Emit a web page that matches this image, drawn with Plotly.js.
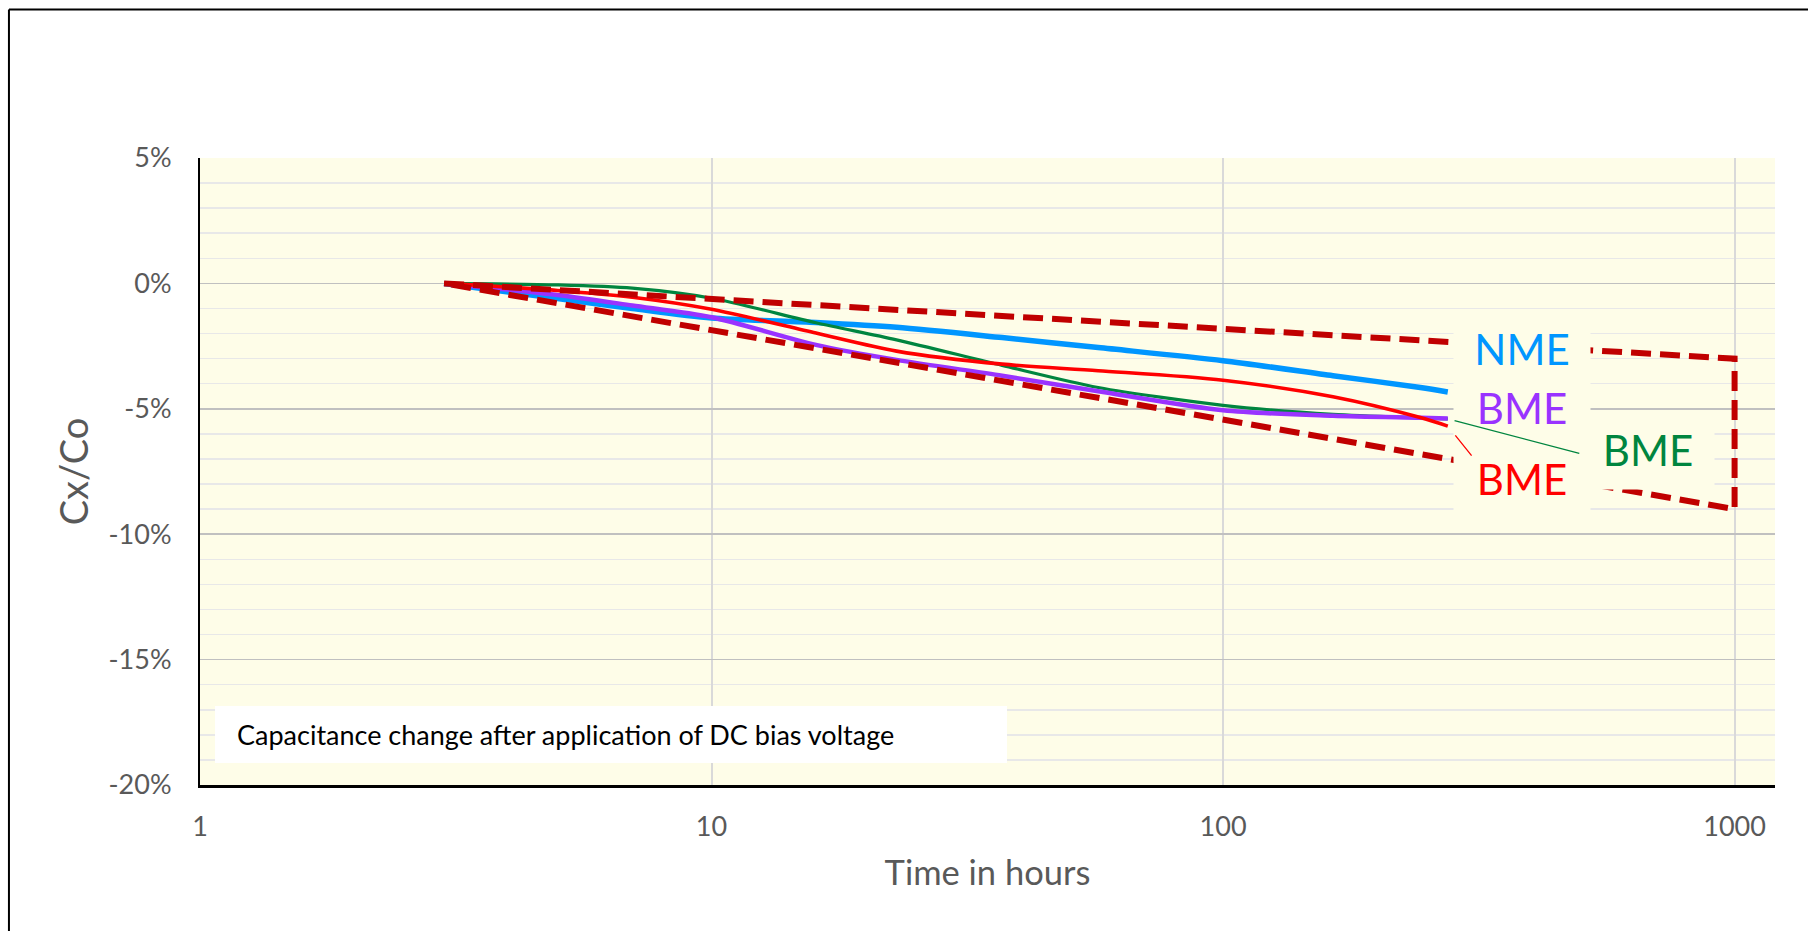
<!DOCTYPE html>
<html>
<head>
<meta charset="utf-8">
<script src="https://cdn.plot.ly/plotly-3.0.1.min.js"></script>
<style>
  html, body { margin: 0; padding: 0; background: #ffffff; }
  #chart { width: 1808px; height: 931px; }
</style>
</head>
<body>
<div id="chart"></div>
<script>
// ---- data ----
const hours      = [3, 5, 7, 10, 16, 23, 37, 57, 100, 164, 243, 275];
const nme        = [0, -0.60, -1.00, -1.38, -1.56, -1.75, -2.16, -2.56, -3.08, -3.68, -4.15, -4.33];
const bmePurple  = [0, -0.46, -0.88, -1.35, -2.45, -3.05, -3.68, -4.30, -5.06, -5.28, -5.36, -5.39];
const bmeRed     = [0, -0.28, -0.55, -1.03, -1.98, -2.70, -3.22, -3.48, -3.86, -4.52, -5.35, -5.69];
const bmeGreen   = [0, -0.06, -0.19, -0.59, -1.57, -2.25, -3.27, -4.15, -4.86, -5.22, -5.36, -5.40];
const limitHours  = [3, 1000, 1000, 3];
const limitValues = [0, -3, -9, 0];

const xTickVals   = [1, 10, 100, 1000];
const xTickLabels = ['1', '10', '100', '1000'];
const yTickVals   = [-20, -15, -10, -5, 0, 5];
const yTickLabels = ['-20%', '-15%', '-10%', '-5%', '0%', '5%'];

const seriesLabels = ['NME', 'BME', 'BME', 'BME'];
const captionText  = 'Capacitance change after application of DC bias voltage';
const xTitle = 'Time in hours';
const yTitle = 'Cx/Co';

// ---- styles ----
const FONT = 'Lato, "Open Sans", sans-serif';
const C_BLUE = '#0096ff', C_PURPLE = '#9933ff', C_RED = '#ff0000', C_GREEN = '#00853f', C_LIMIT = '#c00000';
const PLOT_BG = '#fefde8';

const spline = {shape: 'spline', smoothing: 0.8};
const traces = [
  {x: hours, y: nme,       mode: 'lines', line: Object.assign({color: C_BLUE,   width: 5.5}, spline), hoverinfo: 'skip'},
  {x: hours, y: bmeGreen,  mode: 'lines', line: Object.assign({color: C_GREEN,  width: 3.2}, spline), hoverinfo: 'skip'},
  {x: hours, y: bmePurple, mode: 'lines', line: Object.assign({color: C_PURPLE, width: 4.5}, spline), hoverinfo: 'skip'},
  {x: hours, y: bmeRed,    mode: 'lines', line: Object.assign({color: C_RED,    width: 3.6}, spline), hoverinfo: 'skip'},
  {x: limitHours, y: limitValues, mode: 'lines', line: {color: C_LIMIT, width: 6, dash: '20px,9px'}, hoverinfo: 'skip'}
];

const last = hours.length - 1;
const lx = Math.log10(hours[last]);

function label(text, yv, color, xs, ys, w, h) {
  return {x: lx, y: yv, xref: 'x', yref: 'y', text: text, showarrow: false,
          xshift: xs, yshift: ys, width: w, height: h, bgcolor: PLOT_BG, borderpad: 0,
          font: {family: FONT, size: 42, color: color}};
}
function leader(yv, color, ax, ay, standoff) {
  return {x: lx, y: yv, xref: 'x', yref: 'y', text: '', showarrow: true, arrowhead: 0,
          arrowwidth: 1.3, arrowcolor: color, ax: ax, ay: ay, standoff: standoff, startstandoff: 0};
}

const annotations = [
  label(seriesLabels[0], nme[last],       C_BLUE,   74, 44, 136, 67),
  label(seriesLabels[1], bmePurple[last], C_PURPLE, 74, 11, 136, 67),
  label(seriesLabels[2], bmeRed[last],    C_RED,    74, -52, 136, 67),
  label(seriesLabels[3], bmeGreen[last],  C_GREEN, 200, -31, 132, 78),
  leader(bmeGreen[last], C_GREEN, 133, 35, 7),
  leader(bmeRed[last],   C_RED,   25, 31, 12),
  {x: 0.0222, y: 0.0805, xref: 'paper', yref: 'paper', xanchor: 'left', yanchor: 'middle',
   text: captionText, showarrow: false, font: {family: FONT, size: 27, color: '#000000'}}
];

const layout = {
  width: 1808, height: 931,
  margin: {l: 200, r: 33, t: 158, b: 146},
  paper_bgcolor: '#ffffff', plot_bgcolor: PLOT_BG,
  showlegend: false,
  font: {family: FONT, color: '#595959'},
  xaxis: {
    type: 'log', range: [0, 3.079], tickvals: xTickVals, ticktext: xTickLabels,
    showgrid: true, gridcolor: '#d9d9d9', gridwidth: 2,
    showline: true, linecolor: '#000000', linewidth: 3, zeroline: false,
    ticks: '', ticklabelstandoff: 16, tickfont: {family: FONT, size: 27, color: '#595959'},
    title: {text: xTitle, font: {family: FONT, size: 34.5, color: '#595959'}, standoff: 20},
    automargin: false
  },
  yaxis: {
    range: [-20, 5], tickvals: yTickVals, ticktext: yTickLabels,
    showgrid: true, gridcolor: '#c0c0c0', gridwidth: 1.5,
    minor: {tickmode: 'linear', tick0: 0, dtick: 1, showgrid: true, gridcolor: '#e8e8e8', gridwidth: 1.5, ticks: ''},
    showline: true, linecolor: '#000000', linewidth: 2, zeroline: false,
    ticks: '', ticklabelstandoff: 21, tickfont: {family: FONT, size: 27, color: '#595959'},
    title: {text: yTitle, font: {family: FONT, size: 38, color: '#595959'}, standoff: 8},
    automargin: false
  },
  shapes: [
    {type: 'rect', xref: 'paper', yref: 'paper', x0: 0.0095, x1: 0.5124, y0: 0.0351, y1: 0.126,
     fillcolor: '#ffffff', line: {width: 0}, layer: 'above'},
    {type: 'line', xref: 'paper', yref: 'paper', x0: -0.1213, x1: 1.03, y0: 1.2368, y1: 1.2368,
     line: {color: '#000000', width: 2}, layer: 'above'},
    {type: 'line', xref: 'paper', yref: 'paper', x0: -0.1213, x1: -0.1213, y0: -0.25, y1: 1.2368,
     line: {color: '#000000', width: 2}, layer: 'above'}
  ],
  annotations: annotations
};

Plotly.newPlot('chart', traces, layout, {displayModeBar: false, staticPlot: true});
</script>
</body>
</html>
